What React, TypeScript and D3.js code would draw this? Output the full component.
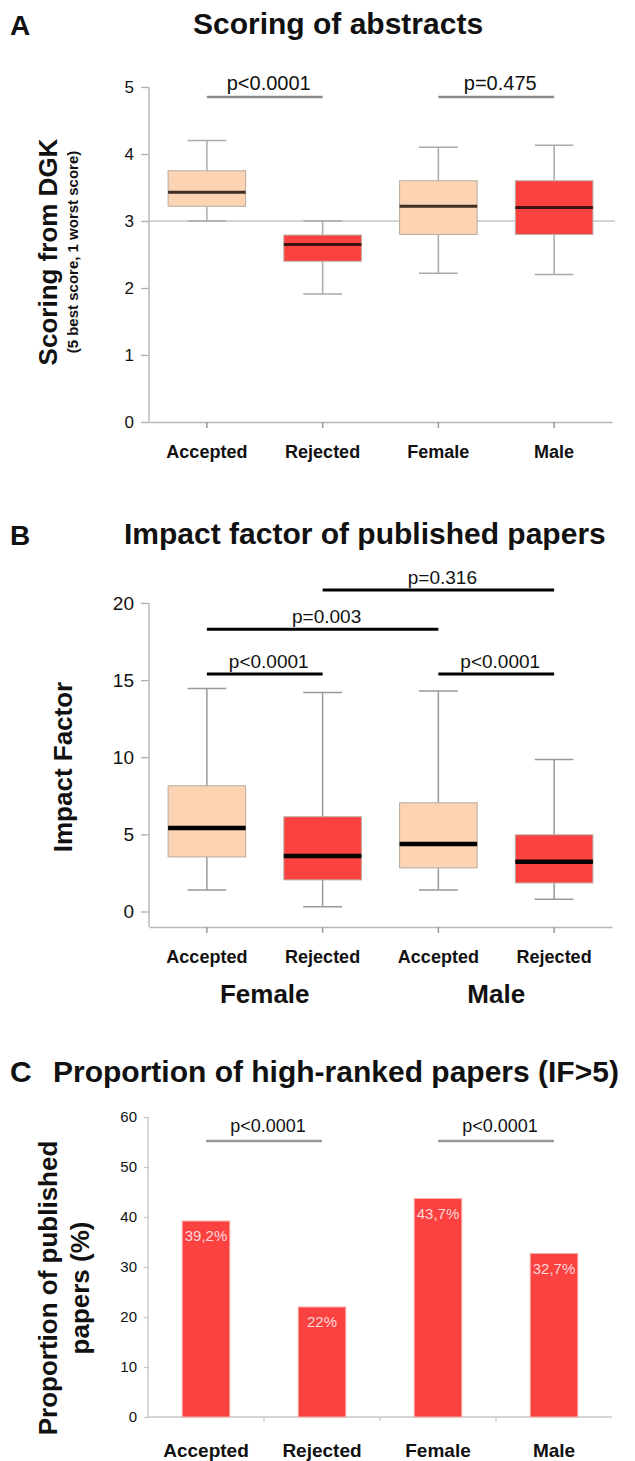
import React, { useEffect, useRef } from "react";
import * as d3 from "d3";

// Panel A: scoring of abstracts
const scoreGroups = ["Accepted", "Rejected", "Female", "Male"];
const scoreBoxes = [
  { min: 3.0, q1: 3.22, median: 3.43, q3: 3.75, max: 4.2 },
  { min: 1.91, q1: 2.4, median: 2.65, q3: 2.79, max: 3.0 },
  { min: 2.22, q1: 2.8, median: 3.22, q3: 3.6, max: 4.1 },
  { min: 2.2, q1: 2.8, median: 3.2, q3: 3.6, max: 4.13 },
];
const scoreTicks = [0, 1, 2, 3, 4, 5];
const scoreSig = [
  { from: 0, to: 1, value: 4.85, label: "p<0.0001" },
  { from: 2, to: 3, value: 4.85, label: "p=0.475" },
];

// Panel B: impact factor
const ifGroups = ["F-Accepted", "F-Rejected", "M-Accepted", "M-Rejected"];
const ifLabels = ["Accepted", "Rejected", "Accepted", "Rejected"];
const ifSexes = ["Female", "Male"];
const ifBoxes = [
  { min: 1.4, q1: 3.54, median: 5.42, q3: 8.15, max: 14.45 },
  { min: 0.3, q1: 2.05, median: 3.6, q3: 6.14, max: 14.2 },
  { min: 1.4, q1: 2.83, median: 4.38, q3: 7.05, max: 14.3 },
  { min: 0.8, q1: 1.85, median: 3.22, q3: 4.97, max: 9.85 },
];
const ifTicks = [0, 5, 10, 15, 20];
const ifSig = [
  { from: 0, to: 1, value: 15.4, label: "p<0.0001" },
  { from: 2, to: 3, value: 15.4, label: "p<0.0001" },
  { from: 0, to: 2, value: 18.3, label: "p=0.003" },
  { from: 1, to: 3, value: 20.85, label: "p=0.316" },
];

// Panel C: proportion of high-ranked papers
const propGroups = ["Accepted", "Rejected", "Female", "Male"];
const propValues = [39.2, 22, 43.7, 32.7];
const propLabels = ["39,2%", "22%", "43,7%", "32,7%"];
const propTicks = [0, 10, 20, 30, 40, 50, 60];
const propSig = [
  { from: 0, to: 1, value: 55.2, label: "p<0.0001" },
  { from: 2, to: 3, value: 55.2, label: "p<0.0001" },
];

const PEACH = "#fcd4b3";
const RED = "#fc4141";
const FONT = "'Liberation Sans', Arial, Helvetica, sans-serif";

const App = () => {
  const svgRef = useRef<SVGSVGElement>(null);

  useEffect(() => {
    const width = 635;
    const height = 1461;
    const svg = d3.select(svgRef.current);
    svg.selectAll("*").remove();
    svg.attr("width", width).attr("height", height).style("font-family", FONT);

    const left = 149;
    const right = 612;
    const fills = [PEACH, RED, PEACH, RED];

    // shared drawing helpers
    const drawYAxis = (y, ticks, fontSize, color) => {
      const g = svg.append("g").attr("transform", `translate(${left},0)`);
      g.call(
        d3.axisLeft(y).tickValues(ticks).tickFormat(d3.format("d"))
          .tickSize(8).tickPadding(7).tickSizeOuter(0)
      );
      g.select(".domain").remove();
      g.selectAll(".tick line").attr("stroke", color).attr("stroke-width", 1.3);
      g.selectAll(".tick text")
        .attr("fill", "#111")
        .style("font-size", `${fontSize}px`)
        .style("font-family", FONT);
      return g;
    };

    const drawBoxes = (x, y, boxes, medianColor, medianWidth, whiskerColor) => {
      const bw = x.bandwidth() * 0.67;
      const cw = bw * 0.5;
      const g = svg.append("g");
      boxes.forEach((b, i) => {
        const cx = x(x.domain()[i]) + x.bandwidth() / 2;
        // whiskers
        g.append("line").attr("x1", cx).attr("x2", cx).attr("y1", y(b.max)).attr("y2", y(b.q3))
          .attr("stroke", whiskerColor).attr("stroke-width", 1.5);
        g.append("line").attr("x1", cx).attr("x2", cx).attr("y1", y(b.q1)).attr("y2", y(b.min))
          .attr("stroke", whiskerColor).attr("stroke-width", 1.5);
        g.append("line").attr("x1", cx - cw / 2).attr("x2", cx + cw / 2).attr("y1", y(b.max)).attr("y2", y(b.max))
          .attr("stroke", whiskerColor).attr("stroke-width", 1.5);
        g.append("line").attr("x1", cx - cw / 2).attr("x2", cx + cw / 2).attr("y1", y(b.min)).attr("y2", y(b.min))
          .attr("stroke", whiskerColor).attr("stroke-width", 1.5);
        // box
        g.append("rect")
          .attr("x", cx - bw / 2)
          .attr("y", y(b.q3))
          .attr("width", bw)
          .attr("height", y(b.q1) - y(b.q3))
          .attr("fill", fills[i])
          .attr("stroke", "#b8aa9c")
          .attr("stroke-width", 1);
        // median
        g.append("line").attr("x1", cx - bw / 2).attr("x2", cx + bw / 2)
          .attr("y1", y(b.median)).attr("y2", y(b.median))
          .attr("stroke", medianColor).attr("stroke-width", medianWidth);
      });
    };

    const drawSig = (x, y, sigs, color, lineWidth, fontSize, gap) => {
      const center = (i) => x(x.domain()[i]) + x.bandwidth() / 2;
      sigs.forEach((s) => {
        const x1 = center(s.from);
        const x2 = center(s.to);
        svg.append("line").attr("x1", x1).attr("x2", x2).attr("y1", y(s.value)).attr("y2", y(s.value))
          .attr("stroke", color).attr("stroke-width", lineWidth);
        svg.append("text")
          .attr("x", (x1 + x2) / 2 + 4)
          .attr("y", y(s.value) - gap)
          .attr("text-anchor", "middle")
          .style("font-size", `${fontSize}px`)
          .attr("fill", "#111")
          .text(s.label);
      });
    };

    const title = (letter, text, x, yBase) => {
      svg.append("text").attr("x", 10).attr("y", yBase + 1)
        .style("font-size", "28px").style("font-weight", "bold").attr("fill", "#111").text(letter);
      svg.append("text").attr("x", x).attr("y", yBase)
        .style("font-size", "30px").style("font-weight", "bold").attr("fill", "#111").text(text);
    };

    const yTitle = (lines, cy, fontSize, baselines) => {
      lines.forEach((t, i) => {
        svg.append("text")
          .attr("transform", `translate(${baselines[i]},${cy}) rotate(-90)`)
          .attr("text-anchor", "middle")
          .style("font-size", `${fontSize[i]}px`)
          .style("font-weight", "bold")
          .attr("fill", "#111")
          .text(t);
      });
    };

    // ---------------- Panel A ----------------
    const xA = d3.scaleBand().domain(scoreGroups).range([left, right]);
    const yA = d3.scaleLinear().domain([0, 5]).range([422, 87]);
    title("A", "Scoring of abstracts", 193, 34);

    drawYAxis(yA, scoreTicks, 17, "#b0b0b0");
    svg.append("line").attr("x1", left).attr("x2", left).attr("y1", yA(5)).attr("y2", yA(0))
      .attr("stroke", "#b8b8b8").attr("stroke-width", 1.5);
    const axA = svg.append("g").attr("transform", `translate(0,${yA(0)})`)
      .call(d3.axisBottom(xA).tickSize(6).tickSizeOuter(0).tickFormat(() => ""));
    axA.select(".domain").attr("stroke", "#b8b8b8").attr("stroke-width", 1.5);
    axA.selectAll(".tick line").attr("stroke", "#999").attr("stroke-width", 1.5);

    // reference line at 3
    svg.append("line").attr("x1", left).attr("x2", 615).attr("y1", yA(3)).attr("y2", yA(3))
      .attr("stroke", "#aaa").attr("stroke-width", 1);

    drawBoxes(xA, yA, scoreBoxes, "rgba(20,10,5,0.82)", 3, "#aaa");
    drawSig(xA, yA, scoreSig, "#8a8a8a", 2.5, 20, 7);

    scoreGroups.forEach((g) => {
      svg.append("text").attr("x", xA(g) + xA.bandwidth() / 2).attr("y", 458)
        .attr("text-anchor", "middle").style("font-size", "18px").style("font-weight", "bold")
        .attr("fill", "#111").text(g);
    });
    yTitle(["Scoring from DGK", "(5 best score, 1 worst score)"], 252, [26, 15], [57, 78]);

    // ---------------- Panel B ----------------
    const xB = d3.scaleBand().domain(ifGroups).range([left, right]);
    const yB = d3.scaleLinear().domain([0, 20]).range([911.5, 603]);
    title("B", "Impact factor of published papers", 124, 544);

    drawYAxis(yB, ifTicks, 19, "#b0b0b0");
    svg.append("line").attr("x1", left).attr("x2", left).attr("y1", yB(20)).attr("y2", yB(-1))
      .attr("stroke", "#b8b8b8").attr("stroke-width", 1.5);
    const axB = svg.append("g").attr("transform", `translate(0,${yB(-1)})`)
      .call(d3.axisBottom(xB).tickSize(6).tickSizeOuter(0).tickFormat(() => ""));
    axB.select(".domain").attr("stroke", "#b8b8b8").attr("stroke-width", 1.5);
    axB.selectAll(".tick line").attr("stroke", "#999").attr("stroke-width", 1.5);

    drawBoxes(xB, yB, ifBoxes, "#000", 4.5, "#999");
    drawSig(xB, yB, ifSig, "#000", 3, 19, 6);

    ifGroups.forEach((g, i) => {
      svg.append("text").attr("x", xB(g) + xB.bandwidth() / 2).attr("y", 963)
        .attr("text-anchor", "middle").style("font-size", "18px").style("font-weight", "bold")
        .attr("fill", "#111").text(ifLabels[i]);
    });
    ifSexes.forEach((s, i) => {
      const cx = (xB(ifGroups[i * 2]) + xB(ifGroups[i * 2 + 1]) + xB.bandwidth()) / 2;
      svg.append("text").attr("x", cx).attr("y", 1003)
        .attr("text-anchor", "middle").style("font-size", "26px").style("font-weight", "bold")
        .attr("fill", "#111").text(s);
    });
    yTitle(["Impact Factor"], 767, [26], [72]);

    // ---------------- Panel C ----------------
    const xC = d3.scaleBand().domain(propGroups).range([left - 1, right]);
    const yC = d3.scaleLinear().domain([0, 60]).range([1417, 1117]);
    svg.append("text").attr("x", 10).attr("y", 1082)
      .style("font-size", "30px").style("font-weight", "bold").attr("fill", "#111").text("C");
    svg.append("text").attr("x", 53).attr("y", 1082)
      .style("font-size", "30px").style("font-weight", "bold").attr("fill", "#111")
      .text("Proportion of high-ranked papers (IF>5)");

    const gyC = drawYAxis(yC, propTicks, 15, "#c8c8c8");
    gyC.selectAll(".tick line").attr("x2", -5);
    gyC.selectAll(".tick text").attr("x", -12);
    svg.append("line").attr("x1", left - 1).attr("x2", left - 1).attr("y1", yC(60)).attr("y2", yC(0))
      .attr("stroke", "#c8c8c8").attr("stroke-width", 1.3);
    svg.append("line").attr("x1", left - 1).attr("x2", right).attr("y1", yC(0)).attr("y2", yC(0))
      .attr("stroke", "#c8c8c8").attr("stroke-width", 1.3);
    propGroups.slice(1).forEach((g) => {
      svg.append("line").attr("x1", xC(g)).attr("x2", xC(g)).attr("y1", yC(0)).attr("y2", yC(0) + 4)
        .attr("stroke", "#c8c8c8").attr("stroke-width", 1.3);
    });

    const barW = xC.bandwidth() * 0.41;
    propGroups.forEach((g, i) => {
      const cx = xC(g) + xC.bandwidth() / 2;
      svg.append("rect")
        .attr("x", cx - barW / 2)
        .attr("y", yC(propValues[i]))
        .attr("width", barW)
        .attr("height", yC(0) - yC(propValues[i]))
        .attr("fill", RED)
        .attr("stroke", "#f5b0a8")
        .attr("stroke-width", 1);
      svg.append("text").attr("x", cx).attr("y", yC(propValues[i]) + 20)
        .attr("text-anchor", "middle").style("font-size", "15px")
        .attr("fill", "#ffd8d8").text(propLabels[i]);
      svg.append("text").attr("x", cx).attr("y", 1457)
        .attr("text-anchor", "middle").style("font-size", "19px").style("font-weight", "bold")
        .attr("fill", "#111").text(g);
    });
    drawSig(xC, yC, propSig, "#999", 2.5, 18, 9);

    yTitle(["Proportion of published", "papers (%)"], 1288, [26, 26], [57, 89]);
  }, []);

  return (
    <div style={{ position: "absolute", left: 0, top: 0 }}>
      <svg ref={svgRef}></svg>
    </div>
  );
};

export default App;
